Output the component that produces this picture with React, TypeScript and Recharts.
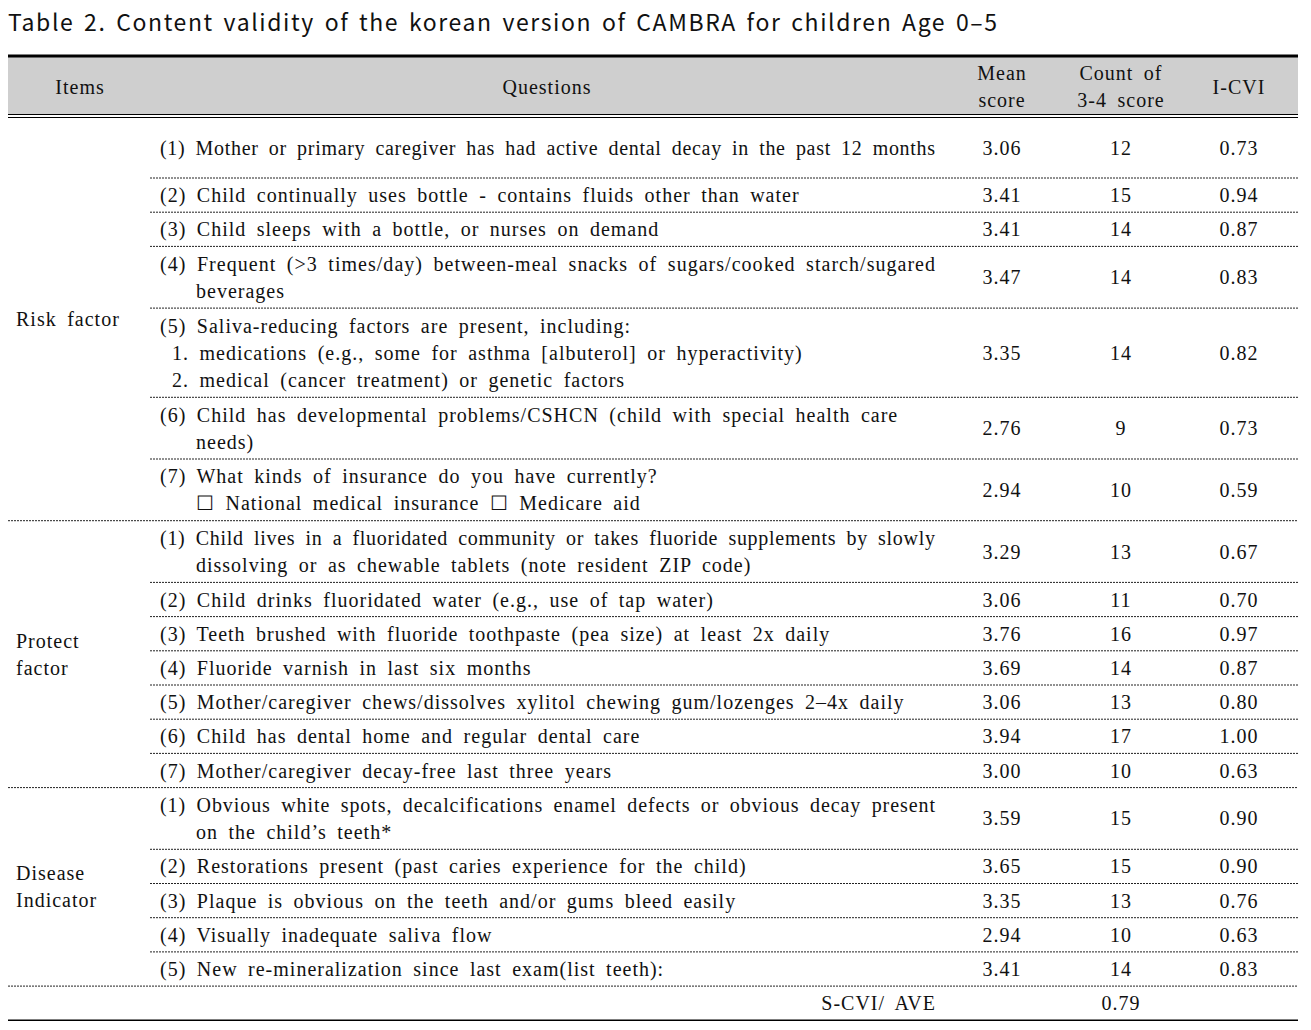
import { ComposedChart, Scatter, XAxis, YAxis, ReferenceLine, ReferenceArea } from 'recharts';

const title = 'Table 2. Content validity of the korean version of CAMBRA for children Age 0–5';

const headers = [
  { key: 'items', lines: ['Items'] },
  { key: 'questions', lines: ['Questions'] },
  { key: 'mean', lines: ['Mean', 'score'] },
  { key: 'count', lines: ['Count  of', '3-4  score'] },
  { key: 'cvi', lines: ['I-CVI'] },
];

const groupNames = [['Risk  factor'], ['Protect', 'factor'], ['Disease', 'Indicator']];

const riskQuestions = [
  ['(1) Mother or primary caregiver has had active dental decay in the past 12 months'],
  ['(2) Child continually uses bottle - contains fluids other than water'],
  ['(3) Child sleeps with a bottle, or nurses on demand'],
  ['(4) Frequent (>3 times/day) between-meal snacks of sugars/cooked starch/sugared', 'beverages'],
  [
    '(5) Saliva-reducing factors are present, including:',
    '1. medications (e.g., some for asthma [albuterol] or hyperactivity)',
    '2. medical (cancer treatment) or genetic factors',
  ],
  ['(6) Child has developmental problems/CSHCN (child with special health care', 'needs)'],
  ['(7) What kinds of insurance do you have currently?', '☐ National medical insurance ☐ Medicare aid'],
];
const riskMean = [3.06, 3.41, 3.41, 3.47, 3.35, 2.76, 2.94];
const riskCount = [12, 15, 14, 14, 14, 9, 10];
const riskCvi = [0.73, 0.94, 0.87, 0.83, 0.82, 0.73, 0.59];

const protectQuestions = [
  [
    '(1) Child lives in a fluoridated community or takes fluoride supplements by slowly',
    'dissolving or as chewable tablets (note resident ZIP code)',
  ],
  ['(2) Child drinks fluoridated water (e.g., use of tap water)'],
  ['(3) Teeth brushed with fluoride toothpaste (pea size) at least 2x daily'],
  ['(4) Fluoride varnish in last six months'],
  ['(5) Mother/caregiver chews/dissolves xylitol chewing gum/lozenges 2–4x daily'],
  ['(6) Child has dental home and regular dental care'],
  ['(7) Mother/caregiver decay-free last three years'],
];
const protectMean = [3.29, 3.06, 3.76, 3.69, 3.06, 3.94, 3.0];
const protectCount = [13, 11, 16, 14, 13, 17, 10];
const protectCvi = [0.67, 0.7, 0.97, 0.87, 0.8, 1.0, 0.63];

const diseaseQuestions = [
  ['(1) Obvious white spots, decalcifications enamel defects or obvious decay present', 'on the child’s teeth*'],
  ['(2) Restorations present (past caries experience for the child)'],
  ['(3) Plaque is obvious on the teeth and/or gums bleed easily'],
  ['(4) Visually inadequate saliva flow'],
  ['(5) New re-mineralization since last exam(list teeth):'],
];
const diseaseMean = [3.59, 3.65, 3.35, 2.94, 3.41];
const diseaseCount = [15, 15, 13, 10, 14];
const diseaseCvi = [0.9, 0.9, 0.76, 0.63, 0.83];

const summaryLabel = 'S-CVI/  AVE';
const summaryValue = 0.79;

// layout (chart px)
const W = 1303;
const H = 1022;
const PLOT_W = 1290;
const COL = { items: 8, itemsHead: 72, q: 152, qHead: 539, qRight: 928, mean: 994, count: 1113, cvi: 1231 };
const TOP_LINE = 48;
const HEAD_TOP = 49;
const HEAD_BOTTOM = 106;
const BODY_TOP = 110;
const ROW_STEP = 27.5;
const ROW_PAD = 6.7;
const FIRST_ROW_MIN = 60;
const LINE_GAP = 27;
const FONT = '"Liberation Serif", "Times New Roman", serif';
const FS = 20;
const LS = 1.0;
const WS = 4.5;

const groups = [
  { name: groupNames[0], qs: riskQuestions, mean: riskMean, count: riskCount, cvi: riskCvi },
  { name: groupNames[1], qs: protectQuestions, mean: protectMean, count: protectCount, cvi: protectCvi },
  { name: groupNames[2], qs: diseaseQuestions, mean: diseaseMean, count: diseaseCount, cvi: diseaseCvi },
];

type Cell = { x: number; y: number; lines: string[]; anchor?: string };

const questionCells: Cell[] = [];
const meanCells: Cell[] = [];
const countCells: Cell[] = [];
const cviCells: Cell[] = [];
const groupCells: Cell[] = [];
const rowRules: number[] = [];
const groupRules: number[] = [];

let cursor = BODY_TOP;
groups.forEach((g, gi) => {
  const gTop = cursor;
  g.qs.forEach((lines, i) => {
    let h = lines.length * ROW_STEP + ROW_PAD;
    if (gi === 0 && i === 0) h = Math.max(h, FIRST_ROW_MIN);
    const mid = cursor + h / 2;
    questionCells.push({ x: COL.q, y: mid, lines });
    meanCells.push({ x: COL.mean, y: mid, lines: [g.mean[i].toFixed(2)] });
    countCells.push({ x: COL.count, y: mid, lines: [String(g.count[i])] });
    cviCells.push({ x: COL.cvi, y: mid, lines: [g.cvi[i].toFixed(2)] });
    cursor += h;
    if (i < g.qs.length - 1) rowRules.push(cursor);
  });
  groupCells.push({ x: COL.items, y: (gTop + cursor) / 2, lines: g.name });
  groupRules.push(cursor);
});
const summaryMid = cursor + (ROW_STEP + ROW_PAD) / 2;
const summaryBottom = cursor + ROW_STEP + ROW_PAD;
const summaryCells: Cell[] = [
  { x: COL.qRight, y: summaryMid, lines: [summaryLabel], anchor: 'end' },
  { x: COL.count, y: summaryMid, lines: [summaryValue.toFixed(2)] },
];

const headMid = (HEAD_TOP + HEAD_BOTTOM) / 2 + 1;
const headX: Record<string, number> = {
  items: COL.itemsHead,
  questions: COL.qHead,
  mean: COL.mean,
  count: COL.count,
  cvi: COL.cvi,
};
const headerCells: Cell[] = headers.map((h) => ({ x: headX[h.key], y: headMid, lines: h.lines }));

function lineX(line: string, i: number, x: number) {
  if (i === 0) return x;
  if (/^\d\./.test(line)) return x + 12;
  return x + 36;
}

// rough width of a line, to justify the long ones like the source does
let ctx: CanvasRenderingContext2D | null = null;
function textWidth(s: string) {
  if (!ctx && typeof document !== 'undefined') ctx = document.createElement('canvas').getContext('2d');
  if (!ctx) return 0;
  ctx.font = `${FS}px "Liberation Serif"`;
  return ctx.measureText(s).width + s.length * LS + (s.split(' ').length - 1) * WS;
}

const makeShape = (anchor: string, indent: boolean) => (p: any) => {
  const { cx, cy, payload } = p;
  const lines: string[] = payload.lines;
  const a = payload.anchor || anchor;
  return (
    <text
      fontFamily={FONT}
      fontSize={FS}
      fill="#111"
      textAnchor={a}
      style={{ wordSpacing: `${WS}px`, letterSpacing: `${LS}px` }}
    >
      {lines.map((l, i) => {
        const x = indent ? lineX(l, i, cx) : cx;
        const avail = COL.qRight - x;
        const justify = indent && textWidth(l) > avail - 18;
        return (
          <tspan
            key={i}
            x={x}
            y={cy + (i - (lines.length - 1) / 2) * LINE_GAP + 7}
            textLength={justify ? avail : undefined}
            lengthAdjust={justify ? 'spacing' : undefined}
          >
            {l}
          </tspan>
        );
      })}
    </text>
  );
};

export default function App() {
  return (
    <div style={{ position: 'relative', width: W, height: H }}>
      <div
        style={{
          position: 'absolute',
          left: 0,
          top: -1,
          fontFamily: '"Noto Sans CJK KR", "Noto Sans", sans-serif',
          fontSize: 23,
          lineHeight: '28px',
          letterSpacing: '1.6px',
          wordSpacing: '3px',
          color: '#111',
          whiteSpace: 'nowrap',
        }}
      >
        {title}
      </div>
      <ComposedChart width={W} height={H} margin={{ top: 0, right: W - PLOT_W, bottom: 0, left: 0 }}>
        <XAxis type="number" dataKey="x" domain={[0, PLOT_W]} allowDataOverflow hide />
        <YAxis type="number" dataKey="y" domain={[0, H]} allowDataOverflow reversed hide />
        <ReferenceArea x1={0} x2={PLOT_W} y1={HEAD_TOP} y2={HEAD_BOTTOM} fill="#cfcfcf" fillOpacity={1} stroke="none" />
        <ReferenceLine segment={[{ x: 0, y: TOP_LINE }, { x: PLOT_W, y: TOP_LINE }]} stroke="#000" strokeWidth={3} />
        <ReferenceLine segment={[{ x: 0, y: HEAD_BOTTOM + 0.5 }, { x: PLOT_W, y: HEAD_BOTTOM + 0.5 }]} stroke="#000" strokeWidth={1} />
        <ReferenceLine segment={[{ x: 0, y: BODY_TOP - 0.5 }, { x: PLOT_W, y: BODY_TOP - 0.5 }]} stroke="#000" strokeWidth={1} />
        {rowRules.map((y, i) => (
          <ReferenceLine key={'r' + i} segment={[{ x: COL.q - 10, y }, { x: PLOT_W, y }]} stroke="#222" strokeWidth={1} strokeDasharray="2 1" />
        ))}
        {groupRules.map((y, i) => (
          <ReferenceLine key={'g' + i} segment={[{ x: 0, y }, { x: PLOT_W, y }]} stroke="#222" strokeWidth={1} strokeDasharray="2 1" />
        ))}
        <ReferenceLine segment={[{ x: 0, y: summaryBottom }, { x: PLOT_W, y: summaryBottom }]} stroke="#000" strokeWidth={1.5} />
        <Scatter data={headerCells} shape={makeShape('middle', false)} isAnimationActive={false} />
        <Scatter data={groupCells} shape={makeShape('start', false)} isAnimationActive={false} />
        <Scatter data={questionCells} shape={makeShape('start', true)} isAnimationActive={false} />
        <Scatter data={meanCells} shape={makeShape('middle', false)} isAnimationActive={false} />
        <Scatter data={countCells} shape={makeShape('middle', false)} isAnimationActive={false} />
        <Scatter data={cviCells} shape={makeShape('middle', false)} isAnimationActive={false} />
        <Scatter data={summaryCells} shape={makeShape('middle', false)} isAnimationActive={false} />
      </ComposedChart>
    </div>
  );
}
